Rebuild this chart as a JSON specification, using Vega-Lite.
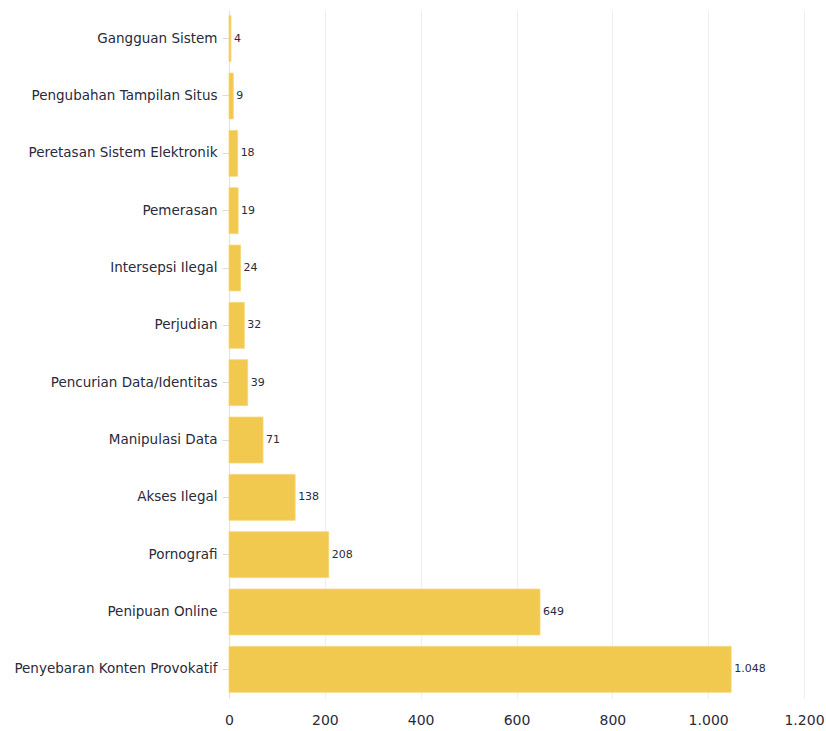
{
  "$schema": "https://vega.github.io/schema/vega-lite/v6.json",
  "width": 575,
  "height": 688,
  "padding": {"left": 13, "top": 10, "right": 5, "bottom": 5},
  "background": "white",
  "config": {
    "view": {"stroke": null},
    "font": "DejaVu Sans",
    "locale": {"number": {"decimal": ",", "thousands": ".", "grouping": [3], "currency": ["", ""]}}
  },
  "data": {
    "values": [
      {"kategori": "Gangguan Sistem", "jumlah": 4},
      {"kategori": "Pengubahan Tampilan Situs", "jumlah": 9},
      {"kategori": "Peretasan Sistem Elektronik", "jumlah": 18},
      {"kategori": "Pemerasan", "jumlah": 19},
      {"kategori": "Intersepsi Ilegal", "jumlah": 24},
      {"kategori": "Perjudian", "jumlah": 32},
      {"kategori": "Pencurian Data/Identitas", "jumlah": 39},
      {"kategori": "Manipulasi Data", "jumlah": 71},
      {"kategori": "Akses Ilegal", "jumlah": 138},
      {"kategori": "Pornografi", "jumlah": 208},
      {"kategori": "Penipuan Online", "jumlah": 649},
      {"kategori": "Penyebaran Konten Provokatif", "jumlah": 1048}
    ]
  },
  "encoding": {
    "y": {
      "field": "kategori",
      "type": "nominal",
      "sort": null,
      "title": null,
      "scale": {"paddingInner": 0.2, "paddingOuter": 0.1},
      "axis": {
        "labelFontSize": 13.5,
        "labelLimit": 400,
        "labelColor": "#2a2a3a",
        "labelPadding": 5,
        "tickSize": 7,
        "tickColor": "#dddddd",
        "domainColor": "#e2e2e2",
        "grid": false
      }
    },
    "x": {
      "field": "jumlah",
      "type": "quantitative",
      "title": null,
      "scale": {"domain": [0, 1200], "nice": false},
      "axis": {
        "values": [0, 200, 400, 600, 800, 1000, 1200],
        "format": ",d",
        "labelFontSize": 14,
        "labelColor": "#2a2a3a",
        "labelPadding": 15,
        "ticks": false,
        "domain": false,
        "gridColor": "#eeeeee",
        "labelFlush": false
      }
    }
  },
  "layer": [
    {"mark": {"type": "bar", "color": "#F2C94F", "stroke": "#F5D575", "strokeWidth": 0.8}},
    {
      "mark": {"type": "text", "align": "left", "baseline": "middle", "dx": 3, "fontSize": 11, "color": "#2a2a3a"},
      "encoding": {"text": {"field": "jumlah", "type": "quantitative", "format": ",d"}}
    }
  ]
}
